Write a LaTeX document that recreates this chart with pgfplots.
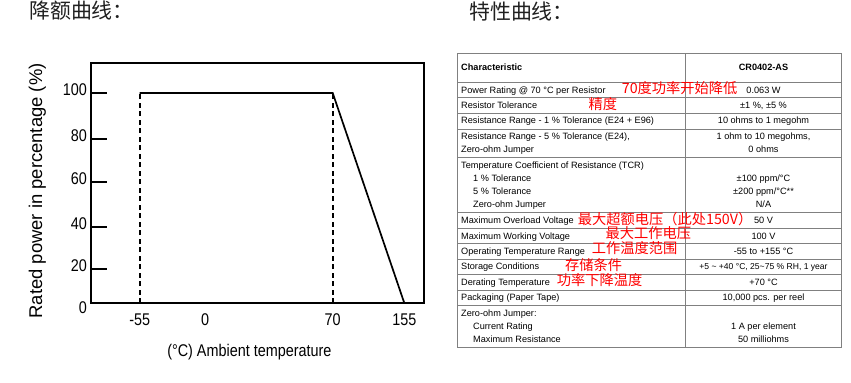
\documentclass[border=0pt]{standalone}
\usepackage{pgfplots}
\pgfplotsset{compat=1.18}
\usepackage{fontspec}
\setmainfont{Liberation Sans}
\newfontfamily\narrowfont{Liberation Sans}[FakeStretch=0.85]
\newfontfamily\cjk{Noto Sans CJK SC}
\definecolor{tablegray}{HTML}{808080}
\definecolor{annred}{HTML}{FF0000}
\definecolor{titleblack}{HTML}{202020}
\begin{document}
\begin{tikzpicture}[x=1bp,y=1bp]
\useasboundingbox (0,0) rectangle (851,-382);
\begin{axis}[
  at={(90.7bp,-303bp)}, anchor=south west,
  width=333.3bp, height=240bp, scale only axis,
  x coord trafo/.code={\pgfmathparse{(#1)<0 ? 114.3+1.1873*(#1) : ((#1)<70 ? 114.3+1.8243*(#1) : 242+0.8424*((#1)-70))}},
  x coord inv trafo/.code={\pgfmathparse{(#1)<114.3 ? ((#1)-114.3)/1.1873 : ((#1)<242 ? ((#1)-114.3)/1.8243 : 70+((#1)-242)/0.8424)}},
  y coord trafo/.code={\pgfmathparse{(#1)<20 ? 1.7*(#1) : ((#1)<40 ? 34+2.1*((#1)-20) : ((#1)<60 ? 76+2.25*((#1)-40) : ((#1)<80 ? 121+2.15*((#1)-60) : 164+2.3*((#1)-80))))}},
  y coord inv trafo/.code={\pgfmathparse{(#1)<34 ? (#1)/1.7 : ((#1)<76 ? 20+((#1)-34)/2.1 : ((#1)<121 ? 40+((#1)-76)/2.25 : ((#1)<164 ? 60+((#1)-121)/2.15 : 80+((#1)-164)/2.3)))}},
  xmin=-96.3, xmax=178.4, ymin=0, ymax=113.04,
  axis line style={line width=1.7bp},
  xtick={-55,0,70,155}, xticklabels={-55,0,70,155},
  ytick={20,40,60,80,100}, yticklabels={20,40,60,80,100},
  extra y ticks={0}, extra y tick labels={0},
  extra y tick style={major tick length=0pt, yticklabel style={yshift=-8.5bp}},
  xtick pos=bottom, ytick pos=left,
  tick align=inside, major tick length=16.6bp,
  every tick/.style={line width=1.7bp, black},
  xtick style={draw=none},
  ticklabel style={font=\narrowfont\fontsize{17}{17}\selectfont},
  yticklabel style={anchor=east, inner sep=0pt, xshift=-3.5bp, yshift=3.5bp},
  xticklabel style={anchor=north, inner sep=0pt, yshift=-10.5bp},
  xlabel={(°C) Ambient temperature},
  xlabel style={font=\narrowfont\fontsize{17}{17}\selectfont, at={(axis description cs:0.476,-0.203)}, anchor=center},
  ylabel={Rated power in percentage (\%)},
  ylabel style={font=\fontsize{18.5}{18.5}\selectfont, at={(axis description cs:-0.16,0.467)}, anchor=center},
  clip=false,
]
\addplot[line width=1.7bp] coordinates {(-55,100) (70,100) (155,0)};
\addplot[line width=1.6bp, dash pattern=on 5bp off 3.5bp] coordinates {(-55,0) (-55,100)};
\addplot[line width=1.6bp, dash pattern=on 5bp off 3.5bp] coordinates {(70,0) (70,100)};
\end{axis}
\begin{scope}[x=1bp, y=-1bp]
% titles
\node[anchor=mid west, inner sep=0pt, font=\cjk\fontsize{21}{21}\selectfont, text=titleblack] at (29,16) {降额曲线：};
\node[anchor=mid west, inner sep=0pt, font=\cjk\fontsize{21}{21}\selectfont, text=titleblack] at (469,16.7) {特性曲线：};
% table grid
\draw[tablegray, line width=0.9bp] (457,53.3) rectangle (841.7,347.3);
\draw[tablegray, line width=0.9bp] (685.3,53.3) -- (685.3,347.3);
\foreach \yy in {82.3,97.3,113.3,129,157.3,212.3,228.3,243.7,259,274.3,290,305.3}
  \draw[tablegray, line width=0.9bp] (457,\yy) -- (841.7,\yy);
% table text
\begin{scope}[every node/.style={inner sep=0pt, font=\fontsize{9.2}{11}\selectfont}]
\node[anchor=mid west, font=\fontsize{9.2}{11}\selectfont\bfseries] at (461,67.7) {Characteristic};
\node[anchor=mid, font=\fontsize{9.2}{11}\selectfont\bfseries] at (763.5,67.7) {CR0402-AS};
\node[anchor=mid west] at (461,90.7) {Power Rating @ 70 °C per Resistor};
\node[anchor=mid west] at (461,105.7) {Resistor Tolerance};
\node[anchor=mid west] at (461,121) {Resistance Range - 1 \% Tolerance (E24 + E96)};
\node[anchor=mid west] at (461,137.3) {Resistance Range - 5 \% Tolerance (E24),};
\node[anchor=mid west] at (461,150) {Zero-ohm Jumper};
\node[anchor=mid west] at (461,166) {Temperature Coefficient of Resistance (TCR)};
\node[anchor=mid west] at (473,179.3) {1 \% Tolerance};
\node[anchor=mid west] at (473,192.3) {5 \% Tolerance};
\node[anchor=mid west] at (473,205) {Zero-ohm Jumper};
\node[anchor=mid west] at (461,221) {Maximum Overload Voltage};
\node[anchor=mid west] at (461,236.7) {Maximum Working Voltage};
\node[anchor=mid west] at (461,252) {Operating Temperature Range};
\node[anchor=mid west] at (461,267) {Storage Conditions};
\node[anchor=mid west] at (461,282.7) {Derating Temperature};
\node[anchor=mid west] at (461,297.7) {Packaging (Paper Tape)};
\node[anchor=mid west] at (461,314) {Zero-ohm Jumper:};
\node[anchor=mid west] at (473,326.7) {Current Rating};
\node[anchor=mid west] at (473,340.3) {Maximum Resistance};
\node[anchor=mid] at (763.5,90.7) {0.063 W};
\node[anchor=mid] at (763.5,105.7) {±1 \%, ±5 \%};
\node[anchor=mid] at (763.5,121) {10 ohms to 1 megohm};
\node[anchor=mid] at (763.5,137.3) {1 ohm to 10 megohms,};
\node[anchor=mid] at (763.5,150) {0 ohms};
\node[anchor=mid] at (763.5,179.3) {±100 ppm/°C};
\node[anchor=mid] at (763.5,192.3) {±200 ppm/°C**};
\node[anchor=mid] at (763.5,205) {N/A};
\node[anchor=mid] at (763.5,221) {50 V};
\node[anchor=mid] at (763.5,236.7) {100 V};
\node[anchor=mid] at (763.5,252) {-55 to +155 °C};
\node[anchor=mid, font=\fontsize{8.6}{10}\selectfont] at (763.5,267) {+5 \textasciitilde{} +40 °C, 25\textasciitilde{}75 \% RH, 1 year};
\node[anchor=mid] at (763.5,282.7) {+70 °C};
\node[anchor=mid] at (763.5,297.7) {10,000 pcs. per reel};
\node[anchor=mid] at (763.5,326.7) {1 A per element};
\node[anchor=mid] at (763.5,340.3) {50 milliohms};
\end{scope}
% red annotations
\begin{scope}[every node/.style={inner sep=0pt, anchor=mid west, text=annred, font=\cjk\fontsize{14.3}{14.3}\selectfont}]
\node at (621.7,90.7) {70度功率开始降低};
\node at (588.3,107) {精度};
\node at (577.7,221.7) {最大超额电压（此处150V）};
\node at (605.5,236) {最大工作电压};
\node at (591.7,250.7) {工作温度范围};
\node at (565,268.3) {存储条件};
\node at (556.7,283.3) {功率下降温度};
\end{scope}
\end{scope}
\end{tikzpicture}
\end{document}
